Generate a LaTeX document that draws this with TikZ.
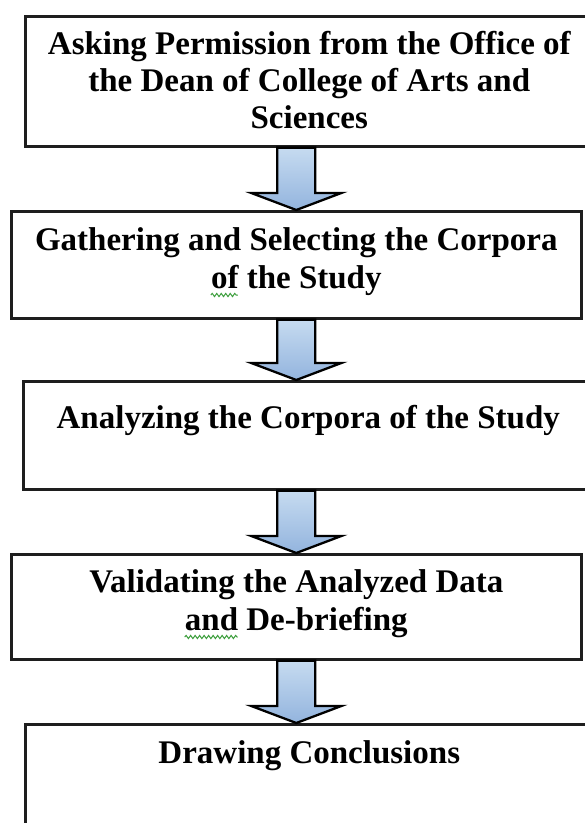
\documentclass[tikz,border=0pt]{standalone}
\usepackage{fontspec}
\setmainfont{Liberation Serif}
\usetikzlibrary{calc,decorations.pathmorphing}
\definecolor{arrowtop}{HTML}{C6DBF0}
\definecolor{arrowbot}{HTML}{93B4DE}
\definecolor{edgecol}{HTML}{1E1E1E}
\definecolor{squig}{HTML}{3C9E3C}
\tikzset{
  stepbox/.style={draw=edgecol, line width=2.6pt, fill=white, rectangle, inner sep=0pt, anchor=north west},
  steptext/.style={anchor=base, inner sep=0pt, font=\fontsize{33}{37.5}\selectfont\bfseries},
  flowarrow/.style={draw=black, line width=2.3pt, line join=miter, top color=arrowtop, bottom color=arrowbot},
  squiggle/.style={draw=squig, line width=1pt, decorate, decoration={snake, amplitude=1.6pt, segment length=4.5pt}}
}
\newcommand{\blockarrowdraw}[2]{%
  \path[flowarrow] let \p1=(#1), \p2=(#2) in
    (\x2-19pt,\y1) -- (\x2-19pt,\y2+17pt) -- (\x2-45pt,\y2+17pt) -- (\x2,\y2)
    -- (\x2+45pt,\y2+17pt) -- (\x2+19pt,\y2+17pt) -- (\x2+19pt,\y1) -- cycle;}
\begin{document}
\begin{tikzpicture}[x=1pt,y=-1pt]
\useasboundingbox (0,0) rectangle (585,823);
\clip (0,0) rectangle (585,823);
\fill[white] (0,0) rectangle (585,823);
% boxes
\node[stepbox, minimum width=568pt, minimum height=130pt] (b1) at (24,15) {};
\node[stepbox, minimum width=570pt, minimum height=107pt] (b2) at (10,210) {};
\node[stepbox, minimum width=570pt, minimum height=108pt] (b3) at (22,380) {};
\node[stepbox, minimum width=570pt, minimum height=105pt] (b4) at (10,553) {};
\node[stepbox, minimum width=568pt, minimum height=130pt] (b5) at (24,723) {};
% texts
\node[steptext] (t1a) at ($(b1.north)+(0,39)$) {Asking Permission from the Office of};
\node[steptext] (t1b) at ($(t1a.base)+(0,37)$) {the Dean of College of Arts and};
\node[steptext] (t1c) at ($(t1b.base)+(0,37)$) {Sciences};
\node[steptext] (t2a) at ($(b2.north)+(0,40)$) {Gathering and Selecting the Corpora};
\node[steptext] (t2b) at ($(t2a.base)+(0,38)$) {of the Study};
\node[steptext] (t3) at ($(b3.north)+(0,48)$) {Analyzing the Corpora of the Study};
\node[steptext] (t4a) at ($(b4.north)+(0,39)$) {Validating the Analyzed Data};
\node[steptext] (t4b) at ($(t4a.base)+(0,38)$) {and De-briefing};
\node[steptext] (t5) at ($(b5.north)+(0,40)$) {Drawing Conclusions};
% spell-check squiggles
\draw[squiggle] ($(t2b.base west)+(0,7)$) -- ++(27,0);
\draw[squiggle] ($(t4b.base west)+(0,7)$) -- ++(53,0);
% arrows
\blockarrowdraw{b1.south -| b2.north}{b2.north}
\blockarrowdraw{b2.south}{b2.south |- b3.north}
\blockarrowdraw{b3.south -| b4.north}{b4.north}
\blockarrowdraw{b4.south}{b4.south |- b5.north}
\end{tikzpicture}
\end{document}
